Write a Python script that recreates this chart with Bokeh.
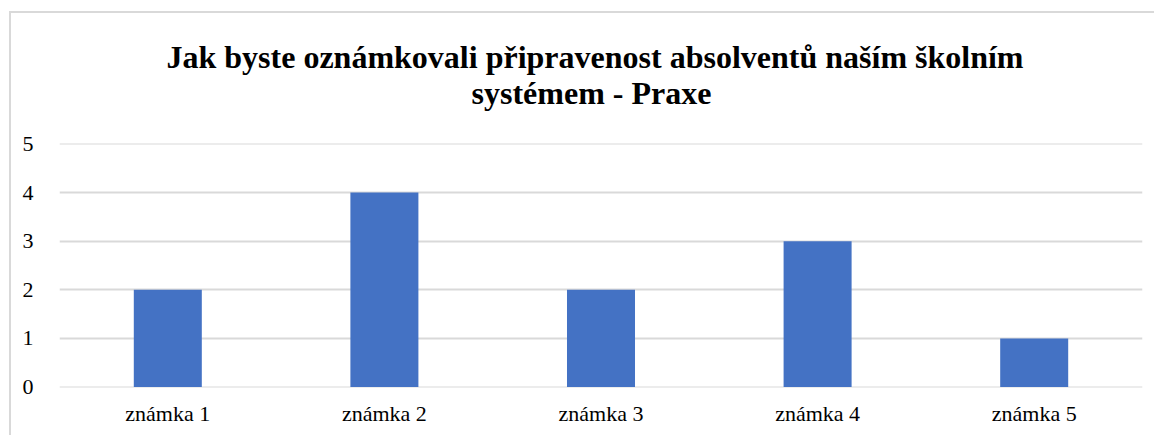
from bokeh.plotting import figure
from bokeh.models import Title, FixedTicker, InlineStyleSheet
from bokeh.embed import file_html
from bokeh.resources import INLINE

categories = ["známka 1", "známka 2", "známka 3", "známka 4", "známka 5"]
values = [2, 4, 2, 3, 1]
y_ticks = [0, 1, 2, 3, 4, 5]
title_line1 = "Jak byste oznámkovali připravenost absolventů naším školním"
title_line2 = "systémem - Praxe"

p = figure(x_range=categories, y_range=(-0.01, 5.01), width=1145, height=424,
           output_backend="svg", toolbar_location=None,
           min_border_left=48, min_border_right=14, min_border_top=130,
           min_border_bottom=50)
p.margin = (11, 0, 0, 9)

p.vbar(x=categories, top=values, width=0.314, color="#4472C4", line_color=None)

p.title.visible = False
title_style = dict(text_font="Liberation Serif", text_font_size="32px",
                   text_font_style="bold", text_color="#000000")
spacer = Title(text=" ", standoff=-5, align="center", **title_style)
t2 = Title(text=title_line2, standoff=0, align="left", offset=412, **title_style)
t1 = Title(text=title_line1, standoff=-5, align="left", offset=107, **title_style)
p.add_layout(spacer, "above")
p.add_layout(t2, "above")
p.add_layout(t1, "above")

p.yaxis.ticker = FixedTicker(ticks=y_ticks)
p.ygrid.ticker = FixedTicker(ticks=y_ticks)
p.ygrid.grid_line_color = "#d9d9d9"
p.ygrid.grid_line_width = 2
p.xgrid.grid_line_color = None
for ax in (p.xaxis, p.yaxis):
    ax.axis_line_color = None
    ax.major_tick_line_color = None
    ax.minor_tick_line_color = None
    ax.major_label_text_font = "Liberation Serif"
    ax.major_label_text_font_size = "22px"
    ax.major_label_text_color = "#000000"
p.yaxis.major_label_standoff = 20
p.xaxis.major_label_standoff = 7
p.outline_line_color = None
p.x_range.range_padding = 0

p.stylesheets = [InlineStyleSheet(css=":host { border-left: 2px solid #d9d9d9; border-top: 2px solid #d9d9d9; }")]

open("out.html", "w").write(file_html(p, INLINE))
